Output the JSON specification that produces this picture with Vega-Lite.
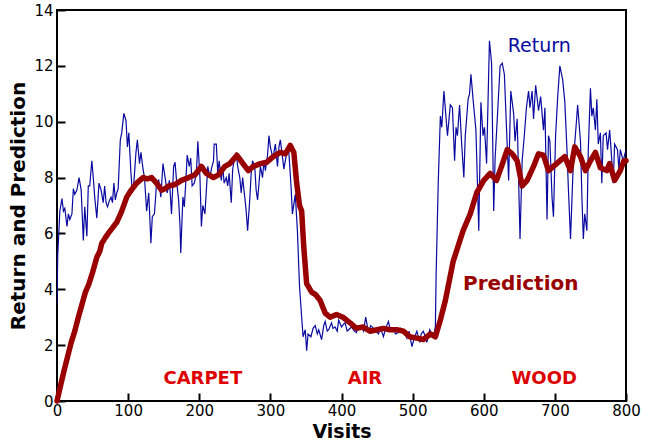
{
  "$schema": "https://vega.github.io/schema/vega-lite/v6.json",
  "width": 569,
  "height": 391,
  "autosize": "none",
  "padding": {"left": 57, "top": 10, "right": 19, "bottom": 41},
  "background": "white",
  "config": {
    "view": {"stroke": "black", "strokeWidth": 2},
    "font": "DejaVu Sans",
    "axis": {
      "domain": false,
      "grid": false,
      "tickColor": "black",
      "tickWidth": 2,
      "tickSize": -8,
      "labelFlush": false,
      "labelOverlap": false,
      "labelFont": "DejaVu Sans",
      "labelFontSize": 15,
      "labelColor": "black",
      "titleFont": "DejaVu Sans",
      "titleFontSize": 20,
      "titleFontWeight": "bold",
      "titleColor": "black"
    }
  },
  "datasets": {
    "ret": [
      {"visit":0,"value":3.5},{"visit":1,"value":5.2},{"visit":4,"value":6.8},{"visit":7,"value":7.25},{"visit":9,"value":6.8},{"visit":11,"value":6.9},{"visit":14,"value":6.25},{"visit":16,"value":6.7},{"visit":18,"value":6.5},{"visit":21,"value":6.7},{"visit":23,"value":7.6},{"visit":25,"value":7.4},{"visit":28,"value":7.55},{"visit":31,"value":8.0},{"visit":34,"value":7.55},{"visit":37,"value":5.75},{"visit":39,"value":6.95},{"visit":42,"value":5.9},{"visit":44,"value":7.7},{"visit":46,"value":7.7},{"visit":49,"value":8.6},{"visit":51,"value":8.0},{"visit":53,"value":7.3},{"visit":56,"value":6.55},{"visit":59,"value":7.8},{"visit":62,"value":7.55},{"visit":65,"value":7.1},{"visit":67,"value":7.7},{"visit":69,"value":7.1},{"visit":71,"value":6.95},{"visit":74,"value":7.2},{"visit":76,"value":7.3},{"visit":78,"value":7.1},{"visit":80,"value":7.8},{"visit":82,"value":7.2},{"visit":84,"value":7.45},{"visit":86,"value":7.6},{"visit":89,"value":9.35},{"visit":91,"value":9.6},{"visit":94,"value":10.3},{"visit":97,"value":10.05},{"visit":99,"value":9.1},{"visit":101,"value":9.6},{"visit":104,"value":8.15},{"visit":106,"value":7.45},{"visit":108,"value":7.8},{"visit":111,"value":8.9},{"visit":113,"value":9.35},{"visit":116,"value":8.5},{"visit":118,"value":8.9},{"visit":121,"value":8.3},{"visit":123,"value":8.0},{"visit":126,"value":6.8},{"visit":129,"value":7.45},{"visit":132,"value":5.65},{"visit":134,"value":6.6},{"visit":137,"value":6.7},{"visit":140,"value":7.8},{"visit":143,"value":7.9},{"visit":146,"value":7.3},{"visit":149,"value":8.5},{"visit":152,"value":8.0},{"visit":155,"value":7.45},{"visit":158,"value":7.9},{"visit":161,"value":6.7},{"visit":164,"value":8.4},{"visit":166,"value":8.55},{"visit":168,"value":7.9},{"visit":171,"value":7.2},{"visit":173,"value":6.25},{"visit":174,"value":5.3},{"visit":177,"value":7.3},{"visit":179,"value":6.95},{"visit":181,"value":7.8},{"visit":183,"value":8.8},{"visit":186,"value":8.4},{"visit":188,"value":8.7},{"visit":190,"value":7.7},{"visit":193,"value":7.8},{"visit":196,"value":8.15},{"visit":198,"value":9.3},{"visit":201,"value":8.0},{"visit":203,"value":6.25},{"visit":205,"value":7.0},{"visit":208,"value":6.7},{"visit":210,"value":7.55},{"visit":212,"value":8.4},{"visit":215,"value":8.0},{"visit":217,"value":8.3},{"visit":220,"value":8.6},{"visit":221,"value":9.2},{"visit":224,"value":9.2},{"visit":226,"value":8.15},{"visit":228,"value":8.6},{"visit":231,"value":7.9},{"visit":233,"value":8.4},{"visit":235,"value":7.8},{"visit":238,"value":8.0},{"visit":240,"value":7.7},{"visit":242,"value":8.15},{"visit":245,"value":7.1},{"visit":247,"value":8.3},{"visit":249,"value":8.6},{"visit":252,"value":8.9},{"visit":254,"value":8.4},{"visit":257,"value":8.0},{"visit":259,"value":7.45},{"visit":261,"value":8.0},{"visit":264,"value":7.3},{"visit":266,"value":6.8},{"visit":268,"value":6.1},{"visit":271,"value":7.2},{"visit":273,"value":8.15},{"visit":275,"value":8.6},{"visit":278,"value":8.4},{"visit":280,"value":7.55},{"visit":282,"value":7.2},{"visit":284,"value":7.8},{"visit":286,"value":8.4},{"visit":289,"value":8.0},{"visit":291,"value":8.6},{"visit":293,"value":8.25},{"visit":296,"value":8.8},{"visit":298,"value":9.5},{"visit":300,"value":9.1},{"visit":303,"value":8.75},{"visit":305,"value":8.9},{"visit":307,"value":9.2},{"visit":310,"value":8.4},{"visit":312,"value":9.1},{"visit":314,"value":9.35},{"visit":317,"value":8.75},{"visit":319,"value":8.3},{"visit":322,"value":8.75},{"visit":324,"value":9.1},{"visit":326,"value":8.9},{"visit":329,"value":7.7},{"visit":331,"value":6.7},{"visit":335,"value":7.4},{"visit":338,"value":6.1},{"visit":341,"value":4.1},{"visit":344,"value":3.0},{"visit":346,"value":2.3},{"visit":349,"value":2.55},{"visit":351,"value":1.8},{"visit":353,"value":2.4},{"visit":357,"value":2.3},{"visit":360,"value":2.6},{"visit":363,"value":2.7},{"visit":366,"value":2.4},{"visit":368,"value":2.55},{"visit":372,"value":2.2},{"visit":375,"value":2.7},{"visit":377,"value":2.85},{"visit":380,"value":2.5},{"visit":382,"value":2.55},{"visit":386,"value":2.8},{"visit":388,"value":2.6},{"visit":391,"value":2.65},{"visit":394,"value":2.5},{"visit":396,"value":2.9},{"visit":400,"value":2.65},{"visit":403,"value":2.75},{"visit":405,"value":2.8},{"visit":408,"value":2.5},{"visit":410,"value":2.55},{"visit":414,"value":2.65},{"visit":418,"value":2.5},{"visit":421,"value":2.45},{"visit":424,"value":2.7},{"visit":428,"value":2.65},{"visit":431,"value":2.5},{"visit":434,"value":3.0},{"visit":438,"value":2.45},{"visit":441,"value":2.7},{"visit":445,"value":2.6},{"visit":448,"value":2.5},{"visit":452,"value":2.4},{"visit":455,"value":2.6},{"visit":459,"value":2.3},{"visit":462,"value":2.6},{"visit":466,"value":2.85},{"visit":469,"value":2.5},{"visit":473,"value":2.55},{"visit":476,"value":2.4},{"visit":480,"value":2.45},{"visit":483,"value":2.6},{"visit":487,"value":2.55},{"visit":492,"value":2.25},{"visit":495,"value":2.5},{"visit":499,"value":1.95},{"visit":503,"value":2.3},{"visit":506,"value":2.5},{"visit":510,"value":2.1},{"visit":512,"value":2.4},{"visit":515,"value":2.5},{"visit":518,"value":2.3},{"visit":520,"value":2.1},{"visit":524,"value":2.55},{"visit":527,"value":2.4},{"visit":529,"value":2.3},{"visit":532,"value":2.65},{"visit":533,"value":4.5},{"visit":536,"value":7.8},{"visit":539,"value":10.2},{"visit":541,"value":9.8},{"visit":544,"value":11.1},{"visit":549,"value":9.5},{"visit":553,"value":10.6},{"visit":556,"value":10.5},{"visit":559,"value":8.6},{"visit":561,"value":9.8},{"visit":563,"value":9.5},{"visit":566,"value":10.6},{"visit":569,"value":9.2},{"visit":572,"value":8.0},{"visit":574,"value":9.5},{"visit":578,"value":10.8},{"visit":580,"value":11.0},{"visit":582,"value":11.7},{"visit":585,"value":10.8},{"visit":589,"value":9.7},{"visit":593,"value":6.1},{"visit":596,"value":10.7},{"visit":599,"value":9.5},{"visit":601,"value":9.8},{"visit":604,"value":8.5},{"visit":608,"value":12.9},{"visit":611,"value":12.1},{"visit":614,"value":6.8},{"visit":616,"value":8.7},{"visit":619,"value":10.1},{"visit":623,"value":12.0},{"visit":626,"value":12.1},{"visit":629,"value":11.7},{"visit":631,"value":10.4},{"visit":635,"value":7.9},{"visit":638,"value":11.1},{"visit":642,"value":10.3},{"visit":644,"value":9.3},{"visit":647,"value":10.1},{"visit":651,"value":5.8},{"visit":654,"value":8.6},{"visit":657,"value":9.5},{"visit":660,"value":10.5},{"visit":663,"value":11.1},{"visit":665,"value":10.5},{"visit":668,"value":11.1},{"visit":670,"value":10.1},{"visit":673,"value":11.3},{"visit":677,"value":10.4},{"visit":680,"value":10.9},{"visit":684,"value":9.7},{"visit":686,"value":10.5},{"visit":689,"value":6.5},{"visit":691,"value":9.5},{"visit":693,"value":9.3},{"visit":696,"value":7.3},{"visit":698,"value":6.6},{"visit":701,"value":9.5},{"visit":704,"value":10.9},{"visit":707,"value":12.0},{"visit":711,"value":11.5},{"visit":714,"value":10.7},{"visit":717,"value":9.0},{"visit":719,"value":7.6},{"visit":722,"value":5.8},{"visit":726,"value":8.6},{"visit":730,"value":9.9},{"visit":732,"value":10.6},{"visit":736,"value":9.3},{"visit":738,"value":7.3},{"visit":740,"value":5.8},{"visit":742,"value":6.7},{"visit":745,"value":6.1},{"visit":747,"value":9.0},{"visit":750,"value":11.2},{"visit":752,"value":10.2},{"visit":754,"value":10.5},{"visit":757,"value":9.7},{"visit":759,"value":10.8},{"visit":761,"value":9.2},{"visit":764,"value":9.6},{"visit":766,"value":7.8},{"visit":768,"value":9.5},{"visit":772,"value":9.6},{"visit":774,"value":9.0},{"visit":777,"value":9.7},{"visit":779,"value":9.0},{"visit":782,"value":7.8},{"visit":784,"value":9.2},{"visit":788,"value":9.0},{"visit":790,"value":8.3},{"visit":792,"value":9.0},{"visit":796,"value":8.6},{"visit":800,"value":9.0}
    ],
    "pred": [
      {"visit":0,"value":0},{"visit":5,"value":0.55},{"visit":10,"value":1.1},{"visit":15,"value":1.6},{"visit":20,"value":2.1},{"visit":25,"value":2.5},{"visit":30,"value":3.0},{"visit":35,"value":3.45},{"visit":40,"value":3.9},{"visit":45,"value":4.2},{"visit":50,"value":4.6},{"visit":56,"value":5.15},{"visit":60,"value":5.35},{"visit":63,"value":5.65},{"visit":68,"value":5.85},{"visit":72,"value":6.0},{"visit":78,"value":6.2},{"visit":84,"value":6.4},{"visit":91,"value":6.8},{"visit":98,"value":7.3},{"visit":103,"value":7.5},{"visit":112,"value":7.8},{"visit":121,"value":8.0},{"visit":127,"value":7.95},{"visit":133,"value":8.0},{"visit":140,"value":7.8},{"visit":147,"value":7.55},{"visit":152,"value":7.6},{"visit":157,"value":7.7},{"visit":166,"value":7.75},{"visit":175,"value":7.9},{"visit":185,"value":8.0},{"visit":194,"value":8.1},{"visit":203,"value":8.4},{"visit":210,"value":8.15},{"visit":220,"value":8.0},{"visit":227,"value":8.1},{"visit":236,"value":8.4},{"visit":243,"value":8.5},{"visit":253,"value":8.8},{"visit":260,"value":8.55},{"visit":269,"value":8.25},{"visit":276,"value":8.4},{"visit":286,"value":8.5},{"visit":295,"value":8.55},{"visit":304,"value":8.75},{"visit":314,"value":8.9},{"visit":321,"value":8.85},{"visit":328,"value":9.15},{"visit":333,"value":8.9},{"visit":337,"value":7.8},{"visit":341,"value":7.0},{"visit":344,"value":6.8},{"visit":347,"value":5.5},{"visit":351,"value":4.2},{"visit":358,"value":3.9},{"visit":364,"value":3.8},{"visit":370,"value":3.6},{"visit":377,"value":3.15},{"visit":384,"value":3.0},{"visit":393,"value":3.1},{"visit":402,"value":3.0},{"visit":412,"value":2.8},{"visit":421,"value":2.6},{"visit":430,"value":2.65},{"visit":440,"value":2.5},{"visit":450,"value":2.55},{"visit":459,"value":2.6},{"visit":468,"value":2.55},{"visit":478,"value":2.55},{"visit":487,"value":2.5},{"visit":496,"value":2.3},{"visit":506,"value":2.25},{"visit":515,"value":2.2},{"visit":525,"value":2.4},{"visit":532,"value":2.3},{"visit":539,"value":2.9},{"visit":546,"value":3.6},{"visit":557,"value":5.0},{"visit":571,"value":6.1},{"visit":581,"value":6.7},{"visit":590,"value":7.45},{"visit":600,"value":7.9},{"visit":609,"value":8.15},{"visit":618,"value":7.9},{"visit":625,"value":8.4},{"visit":633,"value":9.0},{"visit":640,"value":8.85},{"visit":647,"value":8.6},{"visit":654,"value":7.7},{"visit":661,"value":7.9},{"visit":670,"value":8.4},{"visit":677,"value":8.85},{"visit":684,"value":8.8},{"visit":691,"value":8.25},{"visit":698,"value":8.4},{"visit":707,"value":8.6},{"visit":714,"value":8.75},{"visit":722,"value":8.25},{"visit":728,"value":9.1},{"visit":736,"value":8.75},{"visit":743,"value":8.25},{"visit":750,"value":8.6},{"visit":757,"value":8.9},{"visit":764,"value":8.35},{"visit":773,"value":8.25},{"visit":777,"value":8.5},{"visit":784,"value":7.9},{"visit":792,"value":8.25},{"visit":797,"value":8.6},{"visit":800,"value":8.6}
    ],
    "regions": [
      {"label":"CARPET","visit":205,"value":0.8},
      {"label":"AIR","visit":433,"value":0.8},
      {"label":"WOOD","visit":685,"value":0.8}
    ],
    "retlabel": [{"label":"Return","visit":678,"value":12.7}],
    "predlabel": [{"label":"Prediction","visit":652,"value":4.2}]
  },
  "encoding": {
    "x": {"field": "visit", "type": "quantitative", "scale": {"domain": [0, 800], "nice": false},
          "axis": {"values": [0,100,200,300,400,500,600,700,800], "title": "Visits", "titleFontSize": 19, "labelPadding": 10, "titlePadding": 4}},
    "y": {"field": "value", "type": "quantitative", "scale": {"domain": [0, 14], "nice": false},
          "axis": {"values": [0,2,4,6,8,10,12,14], "title": "Return and Prediction", "labelPadding": 12, "titlePadding": 5}}
  },
  "layer": [
    {"data": {"name": "ret"}, "mark": {"type": "line", "color": "#0a0aa0", "strokeWidth": 1.2, "clip": true}},
    {"data": {"name": "pred"}, "mark": {"type": "line", "color": "#990000", "strokeWidth": 5.5, "strokeJoin": "round", "strokeCap": "round"}},
    {"data": {"name": "regions"}, "mark": {"type": "text", "color": "#dd0000", "fontWeight": "bold", "fontSize": 18, "font": "DejaVu Sans"},
     "encoding": {"text": {"field": "label"}}},
    {"data": {"name": "retlabel"}, "mark": {"type": "text", "color": "#0a0aa0", "fontSize": 19, "font": "DejaVu Sans"},
     "encoding": {"text": {"field": "label"}}},
    {"data": {"name": "predlabel"}, "mark": {"type": "text", "color": "#990000", "fontWeight": "bold", "fontSize": 20, "font": "DejaVu Sans"},
     "encoding": {"text": {"field": "label"}}}
  ]
}
